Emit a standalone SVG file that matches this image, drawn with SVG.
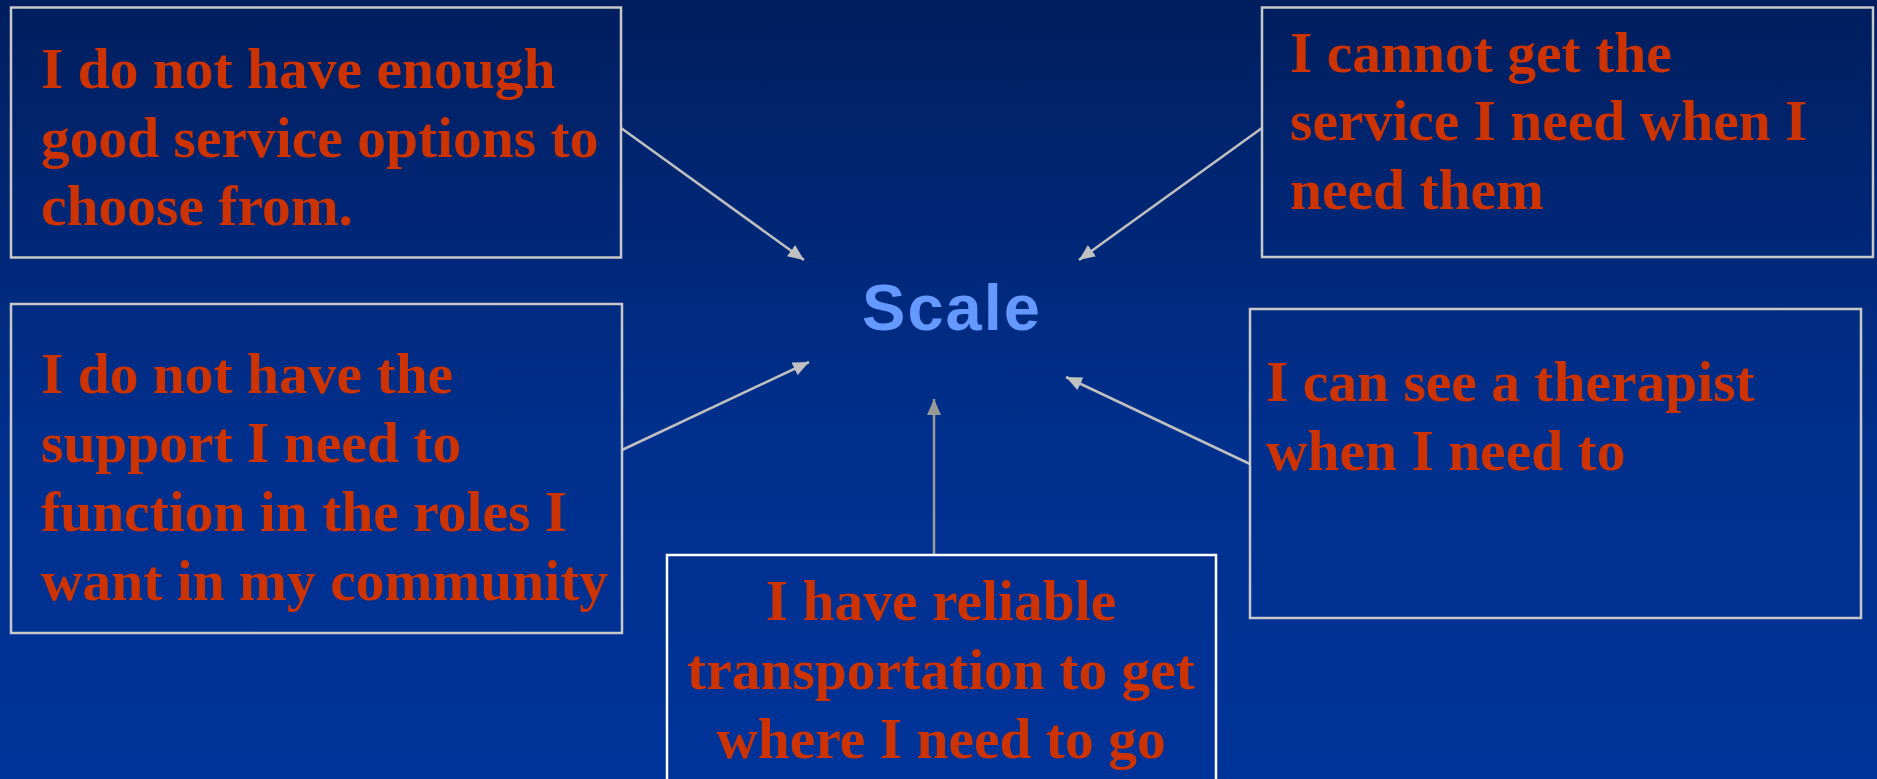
<svg xmlns="http://www.w3.org/2000/svg" width="1877" height="779" viewBox="0 0 1877 779">
  <defs>
    <linearGradient id="bg" x1="0" y1="0" x2="0" y2="1">
      <stop offset="0" stop-color="#001E5E"/>
      <stop offset="0.55" stop-color="#002F8C"/>
      <stop offset="1" stop-color="#003399"/>
    </linearGradient>
    <marker id="head" markerUnits="userSpaceOnUse" markerWidth="18" markerHeight="16" refX="16" refY="7" orient="auto">
      <path d="M0,0 L16,7 L0,14 Z" fill="#C0C0C0"/>
    </marker>
    <marker id="head-dark" markerUnits="userSpaceOnUse" markerWidth="18" markerHeight="16" refX="16" refY="7" orient="auto">
      <path d="M0,0 L16,7 L0,14 Z" fill="#999999"/>
    </marker>
    <style>
      .box { fill: none; stroke: #C8C8C8; stroke-width: 2.5; }
      .box-white { fill: none; stroke: #FFFFFF; stroke-width: 2.5; }
      .txt { font-family: "Liberation Serif", "Times New Roman", serif; font-weight: bold; font-size: 57.5px; fill: #CC3300; }
      .mid { text-anchor: middle; }
      .title { font-family: "Liberation Sans", Arial, sans-serif; font-weight: bold; font-size: 65px; fill: #6699FF; letter-spacing: 2px; text-anchor: middle; }
      .link { stroke: #C0C0C0; stroke-width: 2.5; fill: none; marker-end: url(#head); }
      .link-dark { stroke: #999999; stroke-width: 2.5; fill: none; marker-end: url(#head-dark); }
    </style>
  </defs>

  <rect x="0" y="0" width="1877" height="779" fill="url(#bg)"/>

  <g id="connectors">
    <line class="link" x1="621" y1="128" x2="804" y2="260"/>
    <line class="link" x1="1262" y1="128" x2="1079" y2="260"/>
    <line class="link" x1="622" y1="450" x2="809" y2="362"/>
    <line class="link" x1="1250" y1="464" x2="1066" y2="377"/>
    <line class="link-dark" x1="934" y1="554" x2="934" y2="399"/>
  </g>

  <g id="scale">
    <text class="title" x="952" y="330">Scale</text>
  </g>

  <g id="options">
    <rect class="box" x="11" y="7.5" width="610" height="250"/>
    <text class="txt" x="41" y="88">I do not have enough</text>
    <text class="txt" x="41" y="157">good service options to</text>
    <text class="txt" x="41" y="225">choose from.</text>
  </g>

  <g id="timing">
    <rect class="box" x="1262" y="7.5" width="611" height="249.5"/>
    <text class="txt" x="1290" y="72">I cannot get the</text>
    <text class="txt" x="1290" y="140">service I need when I</text>
    <text class="txt" x="1290" y="209">need them</text>
  </g>

  <g id="support">
    <rect class="box" x="11" y="304" width="611" height="329"/>
    <text class="txt" x="41" y="393">I do not have the</text>
    <text class="txt" x="41" y="462">support I need to</text>
    <text class="txt" x="41" y="531">function in the roles I</text>
    <text class="txt" x="41" y="600">want in my community</text>
  </g>

  <g id="therapist">
    <rect class="box" x="1250" y="309" width="611" height="309"/>
    <text class="txt" x="1266" y="401">I can see a therapist</text>
    <text class="txt" x="1266" y="470">when I need to</text>
  </g>

  <g id="transport">
    <rect class="box-white" x="667" y="555" width="549" height="240"/>
    <text class="txt mid" x="941" y="620">I have reliable</text>
    <text class="txt mid" x="941" y="689">transportation to get</text>
    <text class="txt mid" x="941" y="758">where I need to go</text>
  </g>
</svg>
